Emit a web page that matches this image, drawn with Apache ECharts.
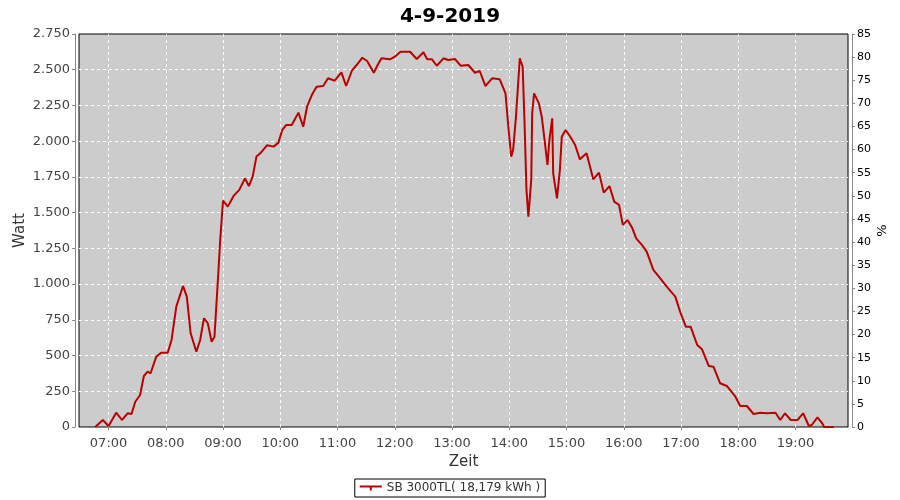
<!DOCTYPE html>
<html><head><meta charset="utf-8">
<script src="https://cdn.jsdelivr.net/npm/echarts@6/dist/echarts.min.js"></script>
<style>html,body{margin:0;padding:0;background:#fff}#c{width:900px;height:500px}</style>
</head><body><div id="c"></div>
<script>
const times = ["06:46","06:54","07:00","07:08","07:14","07:20","07:24","07:28","07:33","07:37","07:41","07:44","07:50","07:55","08:02","08:06","08:11","08:18","08:22","08:26","08:32","08:36","08:40","08:44","08:48","08:51","08:55","08:57","08:59","09:00","09:05","09:11","09:17","09:23","09:27","09:31","09:35","09:39","09:46","09:53","09:58","10:02","10:06","10:12","10:19","10:24","10:28","10:33","10:38","10:45","10:50","10:57","11:04","11:09","11:15","11:20","11:26","11:31","11:38","11:42","11:46","11:55","12:00","12:06","12:16","12:23","12:30","12:34","12:39","12:44","12:51","12:56","13:03","13:09","13:17","13:24","13:29","13:35","13:42","13:50","13:52","13:56","13:59","14:02","14:04","14:07","14:11","14:14","14:16","14:18","14:20","14:23","14:24","14:26","14:31","14:34","14:37","14:40","14:42","14:45","14:46","14:50","14:53","14:55","14:59","15:04","15:09","15:14","15:21","15:28","15:34","15:39","15:45","15:50","15:55","15:59","16:04","16:09","16:13","16:19","16:24","16:31","16:38","16:45","16:54","16:59","17:05","17:10","17:17","17:22","17:29","17:34","17:41","17:48","17:57","18:02","18:09","18:16","18:23","18:30","18:39","18:44","18:49","18:55","19:02","19:08","19:14","19:17","19:23","19:28","19:30","19:40"];
const watt = [0,49,7,100,49,96,91,177,224,357,387,376,492,520,520,609,842,987,912,656,527,609,761,726,597,632,1075,1309,1495,1584,1542,1617,1659,1740,1686,1752,1892,1915,1971,1962,1990,2078,2113,2113,2200,2101,2241,2323,2381,2386,2440,2423,2482,2386,2493,2533,2584,2561,2479,2533,2580,2573,2591,2626,2626,2575,2622,2573,2573,2528,2580,2568,2575,2528,2533,2479,2491,2386,2440,2433,2435,2335,2101,1892,1938,2171,2580,2521,2125,1659,1472,1729,2195,2335,2265,2171,2008,1834,2008,2160,1775,1600,1798,2031,2078,2031,1973,1873,1915,1733,1780,1640,1686,1577,1554,1414,1449,1390,1320,1274,1227,1099,1041,982,912,807,702,702,574,544,427,422,306,287,212,147,147,91,100,96,100,49,96,49,49,96,7,14,68,26,0,0];
const seriesName = "SB 3000TL( 18,179 kWh )";
const chartTitle = "4-9-2019";

function ts(hm){const p=hm.split(':');return new Date(2019,8,4,+p[0],+p[1]).getTime();}
const data = times.map((t,i)=>[ts(t),watt[i]]);
function fmtW(v){if(v>=1000){return Math.floor(v/1000)+'.'+String(v%1000).padStart(3,'0');}return String(v);}

const font='DejaVu Sans';
const chart = echarts.init(document.getElementById('c'),null,{renderer:'canvas'});
chart.setOption({
  animation:false,
  backgroundColor:'#ffffff',
  title:{text:chartTitle,left:'center',top:2,textStyle:{fontFamily:font,fontSize:20,fontWeight:'bold',color:'#000'}},
  grid:{left:79,right:52,top:34,bottom:73,show:true,backgroundColor:'#cccccc',borderColor:'#000',borderWidth:1,
    containLabel:false,outerBoundsMode:'none'},
  legend:{bottom:3,left:'center',borderColor:'#000',borderWidth:1,padding:[3,5,3,5],itemWidth:22,itemHeight:8,
    icon:'path://M0,3 L22,3 L22,5 L12,5 L12,8 L10,8 L10,5 L0,5 Z',
    textStyle:{fontFamily:font,fontSize:12,color:'#333'},data:[seriesName]},
  xAxis:{type:'time',min:ts('06:29'),max:ts('19:55'),minInterval:3600000,maxInterval:3600000,
    name:'Zeit',nameLocation:'middle',nameGap:24,nameMoveOverlap:false,nameTextStyle:{fontFamily:font,fontSize:15,color:'#333'},
    offset:4,axisLine:{show:true,lineStyle:{color:'#888'}},axisTick:{show:true,length:3,lineStyle:{color:'#888'}},
    axisLabel:{formatter:'{HH}:{mm}',fontFamily:font,fontSize:13,color:'#444',margin:6,hideOverlap:false},
    splitLine:{show:true,showMinLine:false,showMaxLine:false,lineStyle:{color:'#ffffff',type:[3,3],width:1}}},
  yAxis:[
    {type:'value',min:0,max:2750,interval:250,name:'Watt',nameLocation:'middle',nameGap:47,nameRotate:90,nameMoveOverlap:false,
     nameTextStyle:{fontFamily:font,fontSize:15,color:'#333'},
     offset:4,axisLine:{show:true,lineStyle:{color:'#888'}},axisTick:{show:true,length:3,lineStyle:{color:'#888'}},
     axisLabel:{formatter:fmtW,fontFamily:font,fontSize:13,color:'#444',margin:5},
     splitLine:{show:true,showMinLine:false,showMaxLine:false,lineStyle:{color:'#ffffff',type:[3,3],width:1}}},
    {type:'value',min:0,max:85,interval:5,position:'right',name:'%',nameLocation:'middle',nameGap:24,nameRotate:90,nameMoveOverlap:false,
     nameTextStyle:{fontFamily:font,fontSize:13,color:'#000'},
     offset:4,axisLine:{show:true,lineStyle:{color:'#888'}},axisTick:{show:true,length:3,lineStyle:{color:'#888'}},
     axisLabel:{fontFamily:font,fontSize:11,color:'#000',margin:5},splitLine:{show:false}}
  ],
  series:[{name:seriesName,type:'line',yAxisIndex:0,data:data,showSymbol:false,symbol:'none',
    lineStyle:{color:'#bb0000',width:2},itemStyle:{color:'#bb0000'}}]
});
</script></body></html>
